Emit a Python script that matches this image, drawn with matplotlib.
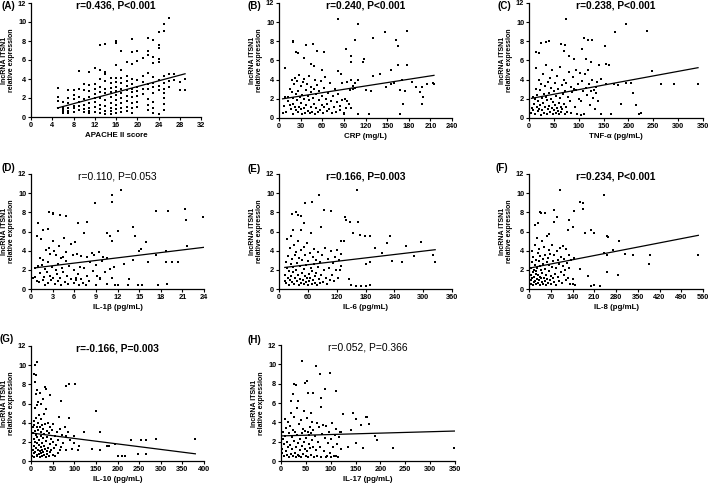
import numpy as np
import matplotlib
matplotlib.use('Agg')
import matplotlib.pyplot as plt

plt.rcParams['font.family'] = ['Liberation Sans', 'DejaVu Sans']

# ---- data ----
panel_labels = ['(A)', '(B)', '(C)', '(D)', '(E)', '(F)', '(G)', '(H)']
titles = ['r=0.436, P<0.001', 'r=0.240, P<0.001', 'r=0.238, P<0.001',
          'r=0.110, P=0.053', 'r=0.166, P=0.003', 'r=0.234, P<0.001',
          'r=-0.166, P=0.003', 'r=0.052, P=0.366']
title_bold = [True, True, True, False, True, True, True, False]
xlabels = ['APACHE II score', 'CRP (mg/L)', 'TNF-\u03b1 (pg/mL)', 'IL-1\u03b2 (pg/mL)',
           'IL-6 (pg/mL)', 'IL-8 (pg/mL)', 'IL-10 (pg/mL)', 'IL-17 (pg/mL)']
xmax = [32, 240, 350, 24, 360, 560, 400, 350]
xstep = [4, 30, 50, 3, 60, 70, 50, 50]

# fitted lines (start x, start y, end x, end y)
fit_x0 = [5, 5, 5, 0.5, 12, 5, 5, 3]
fit_y0 = [0.95, 2.0, 2.05, 2.2, 2.25, 2.2, 2.9, 2.6]
fit_x1 = [29, 215, 340, 24, 325, 545, 380, 350]
fit_y1 = [4.55, 4.45, 5.25, 4.35, 4.1, 5.6, 0.75, 3.1]

# (A) APACHE II score -> expression, by score column
apache = {
    5: [3.1, 2.1, 1.7, 0.9], 6: [1.6, 1.1, 0.8, 0.4, 0.6],
    7: [2.8, 2.0, 1.5, 1.0, 0.6, 0.4], 8: [2.8, 2.3, 1.9, 1.2, 0.9, 0.5],
    9: [4.8, 2.9, 2.1, 1.6, 1.2, 0.7], 10: [3.5, 2.8, 1.9, 1.3, 0.8, 0.5],
    11: [4.7, 3.4, 2.7, 2.1, 1.5, 1.0, 0.6, 0.4],
    12: [5.2, 3.5, 3.0, 2.4, 2.0, 1.6, 1.1, 0.5],
    13: [7.6, 5.0, 4.0, 3.2, 2.6, 2.0, 1.3, 0.8, 0.4],
    14: [7.7, 4.7, 4.5, 3.8, 3.0, 2.5, 1.8, 1.2, 0.6, 0.3],
    15: [4.1, 3.6, 3.1, 2.6, 2.1, 1.5, 1.0, 0.6, 0.3],
    16: [8.0, 7.8, 5.5, 4.1, 3.7, 3.2, 2.7, 2.3, 1.8, 1.3, 0.8, 0.4],
    17: [6.9, 5.0, 4.1, 3.6, 3.0, 2.5, 2.0, 1.5, 1.0, 0.5],
    18: [5.8, 4.3, 3.8, 3.3, 2.8, 2.2, 1.7, 1.1, 0.6],
    19: [8.2, 6.8, 5.6, 4.0, 3.5, 3.0, 2.6, 2.1, 1.5, 0.9, 0.4],
    20: [7.0, 5.9, 3.9, 3.2, 2.7, 2.2, 1.6, 1.1],
    21: [6.2, 4.3, 3.7, 3.0, 2.4],
    22: [8.3, 6.5, 6.9, 4.6, 3.5, 3.0, 1.9, 1.3, 0.7],
    23: [8.1, 6.3, 5.7, 4.2, 3.6, 3.2, 2.5, 1.6, 0.9, 0.4],
    24: [9.0, 7.6, 7.3, 6.1, 5.8, 3.9, 3.3, 2.8, 0.3],
    25: [9.8, 9.1, 4.3, 3.6, 3.0, 2.5, 2.0, 1.4, 0.7],
    26: [10.4, 4.5, 3.8, 3.2], 27: [4.5, 3.9], 28: [3.7, 2.8], 29: [4.0, 2.8],
}

crp_pts = [(5,0.5),(7,1.3),(8,2.2),(10,0.6),(12,1.8),(13,2.2),(15,1.4),(15,3.0),(17,0.9),(18,2.7),
    (18,4.0),(19,1.5),(20,0.4),(20,2.1),(21,3.5),(22,1.1),(22,4.2),(23,2.5),(24,0.8),(25,1.9),
    (25,3.9),(26,0.6),(27,2.8),(28,1.2),(28,4.5),(29,2.2),(30,0.9),(30,3.3),(31,1.6),(32,2.4),
    (32,0.4),(33,3.8),(34,1.0),(35,2.0),(35,4.1),(36,0.5),(37,2.9),(38,1.4),(39,3.5),(40,0.7),
    (40,2.3),(41,1.9),(42,4.4),(43,0.5),(44,2.7),(45,3.2),(45,1.2),(46,0.6),(47,2.1),(48,3.0),
    (49,1.5),(50,0.4),(50,4.0),(51,2.5),(52,1.0),(53,3.4),(54,0.6),(55,1.9),(56,2.8),(57,0.8),
    (58,3.9),(59,1.4),(60,2.3),(61,0.5),(62,3.1),(63,1.1),(64,4.3),(65,2.0),(66,0.7),(67,1.5),
    (68,2.6),(70,0.9),(71,3.6),(72,1.8),(73,0.5),(75,2.3),(76,1.2),(78,3.0),(79,0.6),(80,1.7),
    (82,2.5),(84,0.8),(85,1.3),(87,3.7),(88,1.9),(90,0.5),(91,2.0),(93,1.0),(95,3.8),(97,1.5),
    (98,2.9),(100,1.0),(100,4.0),(103,3.3),(105,3.1),
    (82,10.3),(110,9.8),(147,9.0),(178,9.1),(130,8.3),(106,8.1),(163,8.1),(20,8.0),(20,7.9),(47,7.7),
    (37,7.6),(165,7.5),(93,7.2),(53,7.0),(62,6.9),(24,6.9),(26,6.8),(100,6.5),(35,6.3),(118,6.2),
    (100,5.8),(116,5.8),(165,5.5),(178,5.5),(45,5.6),(48,5.4),(8,5.2),(60,5.0),(155,5.0),(82,4.9),
    (86,4.6),(140,4.6),(130,4.4),(110,4.0),(106,3.7),(160,3.7),(170,4.0),(185,3.8),(198,3.2),(205,3.5),
    (213,3.6),(190,3.2),(195,2.7),(200,2.2),(198,1.5),(172,1.5),(168,0.4),(148,3.2),(155,3.5),(127,2.8),
    (120,2.9),(110,0.4),(125,0.4),(90,0.4),(102,3.0),(95,1.8),(175,2.8),(168,2.9),(215,3.5)]

tnf_pts = [(5,0.5),(6,1.0),(8,2.2),(9,0.8),(10,1.5),(12,2.0),(13,0.4),(14,3.0),(15,5.2),(16,1.2),
    (17,2.4),(18,0.7),(19,1.8),(20,4.0),(21,0.9),(22,2.9),(23,1.4),(24,0.3),(25,3.5),(26,2.1),
    (27,0.8),(28,4.6),(29,1.6),(30,2.5),(31,0.5),(32,3.3),(33,1.1),(34,2.2),(35,5.5),(36,0.4),
    (37,1.9),(38,3.8),(39,0.9),(40,2.6),(41,1.3),(42,4.2),(43,0.6),(44,2.0),(45,3.1),(46,1.0),
    (47,5.0),(48,0.4),(49,1.7),(50,2.8),(51,0.8),(52,3.6),(53,1.4),(54,0.5),(55,2.3),(56,4.4),
    (57,1.0),(58,0.7),(59,3.0),(60,1.6),(61,0.4),(62,2.1),(63,5.3),(64,1.2),(65,0.6),(66,3.4),
    (67,0.9),(68,2.5),(70,1.5),(71,4.0),(72,0.4),(73,2.8),(74,1.1),(75,3.7),(76,0.6),(78,2.2),
    (80,4.8),(82,1.8),(84,3.2),(85,0.5),(87,2.7),(88,4.3),(90,3.0),(92,1.2),(94,5.0),(95,2.9),
    (97,0.4),(98,3.5),(100,2.0),(102,4.7),(104,1.8),(105,0.3),(107,3.9),(108,2.8),(110,0.4),(112,4.6),
    (114,3.1),(116,2.4),(118,5.0),(120,3.5),(122,1.4),(124,2.8),(126,4.0),(128,2.1),(130,2.9),(132,0.9),
    (134,2.6),(136,3.8),(138,1.8),
    (75,10.3),(195,9.8),(172,9.0),(238,9.1),(110,8.3),(118,8.1),(126,8.1),(40,8.0),(35,7.9),(25,7.8),
    (65,7.7),(72,7.6),(153,7.5),(107,7.2),(70,7.0),(80,6.5),(15,6.9),(20,6.8),(115,6.2),(90,6.2),
    (125,5.8),(140,5.5),(155,5.6),(160,5.5),(248,4.9),(195,3.6),(205,3.7),(265,3.5),(292,3.5),(340,3.5),
    (210,2.6),(215,1.4),(225,0.5),(222,0.4),(185,1.5),(165,0.4),(145,0.4),(155,3.5),(170,3.5),(180,3.4),
    (145,4.1),(135,3.2)]

il1b_pts = [(0.3,1.2),(0.5,2.2),(0.6,1.3),(0.8,0.8),(0.9,5.5),(1.0,2.4),(1.1,0.7),(1.2,3.2),(1.3,1.7),(1.4,5.2),
    (1.5,2.5),(1.6,0.9),(1.7,3.0),(1.8,1.3),(1.9,2.1),(2.0,0.4),(2.1,4.1),(2.2,1.8),(2.3,2.8),(2.4,0.6),
    (2.5,4.3),(2.6,1.4),(2.7,3.7),(2.8,0.9),(2.9,2.3),(3.0,5.0),(3.1,1.1),(3.2,4.0),(3.3,0.5),(3.4,2.0),
    (3.5,3.5),(3.6,1.6),(3.7,0.8),(3.8,2.6),(3.9,4.5),(4.0,1.2),(4.1,3.2),(4.2,0.4),(4.3,2.2),(4.4,3.3),
    (4.5,1.8),(4.6,5.3),(4.7,0.7),(4.8,2.9),(4.9,3.9),(5.0,1.4),(5.2,0.5),(5.3,2.4),(5.5,4.7),(5.6,1.0),
    (5.8,3.6),(5.9,0.6),(6.0,2.0),(6.1,4.9),(6.2,1.2),(6.3,0.9),(6.4,3.7),(6.5,1.6),(6.7,0.4),(6.8,2.3),
    (6.9,3.4),(7.0,1.0),(7.2,0.6),(7.3,5.8),(7.4,2.2),(7.6,0.4),(7.7,1.4),(7.8,3.3),(8.0,0.8),(8.2,2.8),
    (8.4,3.8),(8.6,1.9),(8.8,3.6),(9.0,2.5),(9.2,1.4),(9.4,3.9),(9.6,1.1),(9.8,2.9),(10.0,3.3),(10.3,1.8),
    (10.6,3.2),(10.9,2.1),(11.2,1.1),(11.5,2.3),
    (12.5,10.3),(11.3,9.8),(11.3,9.1),(8.9,9.0),(2.5,8.0),(3.1,7.9),(3.1,7.8),(4.0,7.7),(4.9,7.6),(17.4,8.1),
    (19.0,8.1),(21.3,8.3),(21.5,7.2),(23.9,7.5),(1.0,6.9),(6.5,6.9),(7.7,7.0),(1.7,6.2),(2.4,6.3),(12.0,6.1),
    (10.5,5.8),(11.0,5.5),(14.1,6.5),(14.4,5.5),(11.2,5.0),(16.0,4.9),(21.6,4.5),(15.2,4.2),(15.0,4.0),(18.7,4.0),
    (17.3,3.5),(18.7,2.8),(19.5,2.8),(20.4,2.8),(16.2,2.8),(14.2,3.0),(12.9,2.6),(13.6,1.0),(14.8,0.4),(15.4,0.4),
    (17.6,0.4),(18.8,0.5),(13.5,0.4),(12.1,0.4),(11.6,0.4),(10.5,0.5),(9.6,1.0),(9.0,0.4)]

il6_pts = [(12,0.8),(13,1.5),(14,2.8),(15,0.6),(16,2.2),(17,5.2),(18,1.1),(19,3.4),(20,0.4),(21,1.9),
    (22,4.3),(23,0.9),(24,2.6),(25,1.4),(26,5.5),(27,0.7),(28,3.1),(29,1.8),(30,2.3),(31,4.6),
    (32,0.5),(33,3.5),(34,1.2),(35,2.0),(36,3.9),(37,0.8),(38,2.7),(39,1.5),(40,5.0),(41,0.4),
    (42,3.2),(43,1.0),(44,2.4),(45,4.1),(46,0.6),(47,1.7),(48,3.0),(50,0.9),(51,2.1),(52,4.4),
    (53,0.5),(54,1.4),(55,3.6),(56,0.7),(57,2.5),(58,1.2),(59,4.8),(60,0.4),(61,2.9),(62,1.6),
    (63,0.8),(64,3.8),(65,1.1),(66,2.2),(67,5.8),(68,0.5),(69,1.9),(70,3.3),(71,0.9),(72,2.6),
    (73,4.2),(74,1.4),(75,0.6),(76,3.0),(78,1.7),(80,0.4),(81,2.3),(82,3.9),(84,1.0),(85,0.6),
    (86,2.8),(88,1.5),(90,3.5),(92,0.7),(94,2.0),(96,4.3),(98,1.2),(100,0.5),(102,3.1),(104,2.2),
    (106,0.9),(108,4.0),(110,1.5),(112,2.7),(114,0.8),(116,3.3),(118,2.0),(120,4.1),(122,1.1),(124,3.0),
    (126,2.0),(128,3.7),(130,2.4),
    (163,10.3),(83,9.8),(55,9.0),(68,9.1),(93,8.2),(108,8.1),(28,7.8),(35,8.0),(40,7.7),(45,7.6),
    (137,7.5),(140,7.2),(148,7.0),(165,7.0),(88,6.5),(53,6.9),(30,6.2),(45,6.2),(155,5.8),(168,5.6),
    (178,5.5),(190,5.5),(230,5.5),(135,5.0),(130,5.0),(225,4.8),(295,4.9),(265,4.5),(320,3.6),(325,2.8),
    (280,3.4),(255,2.8),(235,2.9),(215,3.8),(200,4.3),(190,2.8),(180,2.6),(160,0.3),(170,0.3),(180,0.3),
    (190,0.4),(150,0.4),(145,1.0)]

il8_pts = [(5,0.5),(6,1.5),(7,2.2),(8,0.9),(9,4.0),(10,1.2),(11,2.8),(12,0.4),(13,1.8),(14,3.3),
    (15,0.7),(16,2.0),(17,1.3),(18,4.6),(19,0.8),(20,2.5),(21,1.6),(22,3.0),(23,0.5),(24,1.9),
    (25,5.3),(26,1.0),(27,2.2),(28,3.8),(29,0.6),(30,1.5),(31,2.9),(32,0.9),(33,4.2),(34,1.3),
    (35,2.4),(36,0.4),(37,3.4),(38,1.1),(40,2.0),(41,5.0),(42,0.7),(43,1.7),(44,3.1),(45,0.5),
    (46,2.6),(48,1.2),(49,4.4),(50,0.8),(52,2.1),(53,3.6),(54,1.5),(55,0.4),(57,2.8),(58,5.5),
    (59,1.0),(60,3.2),(62,0.6),(63,1.9),(64,4.1),(65,2.5),(67,0.9),(68,3.7),(70,1.4),(72,0.5),
    (73,2.3),(75,4.6),(76,1.1),(78,2.9),(80,0.7),(82,3.5),(84,1.6),(86,2.2),(88,0.4),(90,4.0),
    (92,1.3),(94,3.0),(96,0.8),(98,2.6),(100,4.3),(102,1.8),(104,3.3),(106,0.6),(108,2.4),(110,4.5),
    (112,1.5),(114,3.1),(116,2.0),(118,0.9),(120,4.2),(122,2.7),(125,1.2),(128,3.6),(130,2.2),(133,0.5),
    (136,3.0),(140,1.0),(142,0.5),(145,3.2),(148,0.4),
    (100,10.3),(240,9.8),(165,9.1),(175,9.0),(175,8.3),(80,8.2),(35,8.0),(50,7.9),(40,7.9),(145,8.1),
    (90,7.5),(130,7.2),(80,7.0),(30,6.9),(20,6.7),(140,6.5),(125,6.2),(200,6.2),(210,5.8),(180,5.8),
    (250,5.5),(255,5.4),(65,5.7),(290,5.0),(270,4.1),(240,3.8),(250,3.5),(310,3.7),(335,3.5),(390,3.5),
    (385,2.6),(545,3.5),(250,1.8),(285,1.5),(200,0.3),(210,0.4),(230,0.3),(190,1.4),(165,2.1)]

il10_pts = [(3,0.5),(4,2.9),(5,3.5),(5,1.2),(6,4.2),(6,0.8),(7,2.3),(7,3.8),(8,1.6),(8,0.4),
    (9,3.1),(9,5.5),(10,2.0),(10,0.9),(11,4.5),(11,1.4),(12,2.7),(12,7.0),(13,0.6),(13,3.6),
    (14,1.9),(14,5.8),(15,2.5),(15,0.5),(16,4.0),(16,1.1),(17,6.2),(17,3.2),(18,1.7),(18,0.7),
    (19,2.2),(19,4.8),(20,1.0),(20,3.5),(21,7.1),(21,0.4),(22,2.6),(22,1.5),(23,4.4),(23,0.8),
    (24,3.0),(24,5.9),(25,1.9),(25,0.5),(26,3.8),(26,1.2),(27,2.4),(27,6.5),(28,0.9),(28,3.3),
    (30,1.6),(30,4.9),(31,0.6),(31,2.8),(32,7.7),(33,1.3),(33,3.9),(34,0.4),(34,2.1),(35,5.4),
    (36,1.0),(36,3.1),(37,0.7),(38,2.5),(39,4.0),(40,1.4),(41,0.5),(42,2.9),(43,1.8),(44,3.6),
    (45,0.9),(46,2.3),(47,1.2),(48,3.2),(50,0.6),(51,2.0),(52,3.9),(54,1.4),(55,0.5),(56,2.6),
    (58,1.7),(60,3.0),(62,0.8),(63,2.2),(65,4.6),(66,1.1),(68,3.3),(70,1.5),(72,2.7),(75,1.9),
    (78,3.5),(80,1.2),(82,2.6),(85,3.0),(90,2.2),(95,1.3),
    (13,10.3),(10,10.0),(12,9.0),(8,9.1),(10,8.2),(88,8.0),(102,8.0),(80,7.8),(35,7.5),(15,7.4),
    (45,6.9),(70,6.3),(150,5.2),(87,4.5),(100,2.6),(122,3.0),(140,1.3),(160,1.2),(175,1.6),(180,1.6),
    (200,0.5),(210,0.5),(218,0.5),(232,2.2),(255,2.2),(265,2.2),(290,2.3),(380,2.3),(248,0.7),(265,0.7),
    (160,3.0),(195,1.8),(110,1.6),(108,1.2),(100,1.9)]

il17_pts = [(2,1.2),(3,0.8),(4,2.3),(5,3.0),(6,0.5),(7,1.8),(8,4.3),(9,2.6),(10,1.0),(11,3.4),
    (12,0.6),(13,2.0),(14,4.0),(15,1.4),(16,2.9),(17,0.4),(18,3.6),(19,1.7),(20,5.0),(21,0.7),
    (22,2.5),(23,1.2),(24,3.2),(25,0.5),(26,4.6),(27,2.1),(28,0.8),(29,3.0),(30,1.5),(31,0.4),
    (32,2.7),(33,5.5),(34,0.6),(35,1.9),(36,3.8),(37,0.5),(38,2.3),(39,1.1),(40,4.2),(41,0.4),
    (42,2.9),(43,1.6),(44,3.3),(45,0.7),(46,2.0),(47,5.2),(48,1.2),(49,3.1),(50,0.5),(51,2.4),
    (52,4.5),(53,1.0),(54,3.0),(55,0.4),(56,1.8),(57,2.7),(58,3.5),(59,1.3),(60,2.9),(61,0.6),
    (62,4.0),(63,2.2),(64,1.4),(65,3.2),(66,0.4),(68,2.6),(70,1.1),(72,3.9),(73,0.5),(75,2.0),
    (77,3.5),(78,1.5),(80,0.4),(82,2.8),(84,3.7),(86,1.0),(88,2.4),(90,3.6),(92,0.5),(94,1.9),
    (96,3.0),(98,0.8),(100,2.3),(102,3.9),(104,1.4),(106,0.5),(108,2.7),(110,3.3),(112,1.8),(114,0.4),
    (116,2.5),(118,3.0),(120,1.2),
    (42,10.3),(70,9.8),(78,9.0),(98,9.1),(26,8.0),(30,7.9),(48,8.1),(53,8.3),(88,7.5),(110,7.2),
    (55,7.0),(65,7.0),(80,6.5),(25,6.9),(20,6.2),(35,6.2),(60,5.0),(80,5.6),(125,4.9),(145,5.0),
    (170,4.6),(172,4.6),(178,3.8),(160,3.7),(150,4.3),(140,3.2),(120,3.0),(190,2.6),(193,2.2),(165,1.3),
    (225,1.3),(348,1.3),(150,1.9),(135,1.5),(110,0.5),(100,0.4),(90,0.4)]

apache_x = [k for k, v in apache.items() for _ in v]
apache_y = [y for v in apache.values() for y in v]
scatter_data = [(apache_x, apache_y)] + [tuple(zip(*p)) for p in
    [crp_pts, tnf_pts, il1b_pts, il6_pts, il8_pts, il10_pts, il17_pts]]

# ---- layout (pixel boxes: left, top, right, bottom) ----
W, H = 709, 484
boxes = [(31, 3, 201, 117), (279, 3, 452, 118), (529, 3, 703, 118),
         (31, 174, 204, 289), (279, 174, 452, 289), (529, 174, 703, 289),
         (31, 346, 204, 461), (281, 345, 455, 461)]
label_pos = [(1, 6), (247, 6), (497, 6), (2, 168), (247, 169), (495, 168), (0, 339), (247, 340)]

fig = plt.figure(figsize=(W / 100, H / 100), dpi=100)

for i in range(8):
    l, t, r, b = boxes[i]
    ax = fig.add_axes([l / W, 1 - b / H, (r - l) / W, (b - t) / H])
    xs, ys = scatter_data[i]
    ax.scatter(xs, ys, s=2.2, marker='s', color='black', linewidths=0)
    ax.plot([fit_x0[i], fit_x1[i]], [fit_y0[i], fit_y1[i]], color='black', lw=0.9)
    ax.set_xlim(0, xmax[i])
    ax.set_ylim(0, 12)
    ax.set_xticks(np.arange(0, xmax[i] + 1, xstep[i]))
    ax.set_yticks(np.arange(0, 13, 2))
    for s in ['top', 'right']:
        ax.spines[s].set_visible(False)
    for s in ['left', 'bottom']:
        ax.spines[s].set_linewidth(0.9)
    ax.tick_params(length=2, width=0.8, pad=1.5, labelsize=5.3)
    for lab in ax.get_xticklabels() + ax.get_yticklabels():
        lab.set_fontweight('bold')
    ax.set_xlabel(xlabels[i], fontsize=5.7, fontweight='bold', labelpad=2)
    ax.set_ylabel('lncRNA ITSN1\nrelative expression', fontsize=5, fontweight='bold',
                  labelpad=2, linespacing=1.1)
    ax.text(0.5, 0.975, titles[i], transform=ax.transAxes, ha='center', va='center',
            fontsize=7.4, fontweight='bold' if title_bold[i] else 'normal')
    lx, ly = label_pos[i]
    fig.text(lx / W, 1 - ly / H, panel_labels[i], fontsize=7, fontweight='bold',
             ha='left', va='center')

fig.savefig('out.png', dpi=100)
